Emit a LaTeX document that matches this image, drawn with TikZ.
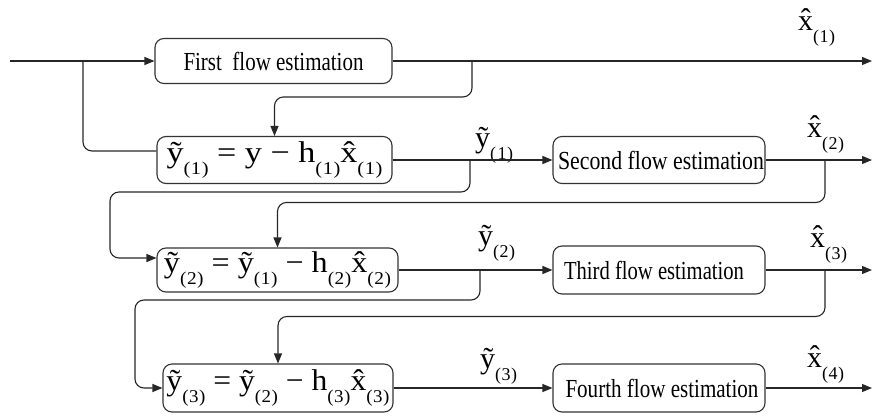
\documentclass[tikz,border=0pt]{standalone}
\usepackage{fontspec}
\setmainfont{Liberation Serif}
\usetikzlibrary{arrows.meta}
\newcommand{\fitw}[2]{\resizebox{#1}{\height}{#2}}
\newcommand{\sbs}[1]{\raisebox{-12pt}{\fontsize{18}{18}\selectfont(\kern0.5pt#1\kern0.5pt)}}
\newcommand{\mainsz}{\fontsize{30}{30}\selectfont}
\newcommand{\flowsz}{\fontsize{26}{26}\selectfont}
\newcommand{\yt}{\~{y}}
\newcommand{\xh}{\^{x}}
\begin{document}
\begin{tikzpicture}[x=1pt,y=-1pt,
  blk/.style={draw=black!80, line width=1.1pt, rounded corners=9pt, inner sep=0pt, anchor=center},
  conn/.style={draw=black!85, line width=1.1pt, rounded corners=9pt},
  arr/.style={-{Triangle[length=10pt,width=8pt]}},
  lbl/.style={anchor=base west, inner sep=0pt, font=\mainsz}]
\useasboundingbox (0,0) rectangle (873,416);
% boxes
\node[blk, minimum width=237pt, minimum height=45pt] (f1) at (273.5,61) {\flowsz\fitw{180pt}{First\ \ flow estimation}};
\node[blk, minimum width=235pt, minimum height=47pt] (e1) at (274.5,160) {\mainsz\fitw{216pt}{\yt\sbs{1} = y − h\sbs{1}\xh\sbs{1}}};
\node[blk, minimum width=212pt, minimum height=47pt] (f2) at (659,160) {\flowsz\hspace*{4pt}\fitw{206pt}{Second flow estimation}};
\node[blk, minimum width=241pt, minimum height=44pt] (e2) at (277.5,270) {\mainsz\fitw{227pt}{\yt\sbs{2} = \yt\sbs{1} − h\sbs{2}\xh\sbs{2}}};
\node[blk, minimum width=212pt, minimum height=48pt] (f3) at (659,270) {\flowsz\fitw{180pt}{Third flow estimation}\hspace*{10pt}};
\node[blk, minimum width=230pt, minimum height=48pt] (e3) at (278,388) {\mainsz\fitw{223pt}{\yt\sbs{3} = \yt\sbs{2} − h\sbs{3}\xh\sbs{3}}};
\node[blk, minimum width=212pt, minimum height=48pt] (f4) at (659,388) {\flowsz\hspace*{6pt}\fitw{193pt}{Fourth flow estimation}};
% labels
\node[lbl] (lx1) at (798,30) {\xh\sbs{1}};
\node[lbl] (ly1) at (475,147) {\yt\sbs{\kern1pt1}};
\node[lbl] (lx2) at (807,137) {\xh\sbs{2}};
\node[lbl] (ly2) at (478,245) {\yt\sbs{2}};
\node[lbl] (lx3) at (810,247) {\xh\sbs{3}};
\node[lbl] (ly3) at (480,368) {\yt\sbs{3}};
\node[lbl] (lx4) at (807,367) {\xh\sbs{4}};
% coordinates
\coordinate (in) at (10,61);
\coordinate (b0) at (83,61);
\coordinate (o1) at (872,61);
\coordinate (o2) at (872,160);
\coordinate (o3) at (872,270);
\coordinate (o4) at (872,388);
\coordinate (s1) at (472,61);
\coordinate (s2) at (470,160);
\coordinate (u2) at (110,192);
\coordinate (s3) at (825,160);
\coordinate (s4) at (480,270);
\coordinate (u4) at (135,300);
\coordinate (s5) at (825,270);
% connectors
\draw[conn,arr] (in) -- (f1.west);
\draw[conn] (b0) |- ([yshift=9pt]e1.west);
\draw[conn,arr] (f1.east) -- (o1);
\draw[conn,arr] (s1) |- ([yshift=39pt]e1.north) -- (e1.north);
\draw[conn,arr] (e1.east) -- (f2.west);
\draw[conn,arr] (s2) |- (u2) |- ([yshift=12pt]e2.west);
\draw[conn,arr] (f2.east) -- (o2);
\draw[conn,arr] (s3) |- ([yshift=45pt]e2.north) -- (e2.north);
\draw[conn,arr] (e2.east) -- (f3.west);
\draw[conn,arr] (s4) |- (u4) |- (e3.west);
\draw[conn,arr] (f3.east) -- (o3);
\draw[conn,arr] (s5) |- ([yshift=47pt]e3.north) -- (e3.north);
\draw[conn,arr] (e3.east) -- (f4.west);
\draw[conn,arr] (f4.east) -- (o4);
\end{tikzpicture}
\end{document}
